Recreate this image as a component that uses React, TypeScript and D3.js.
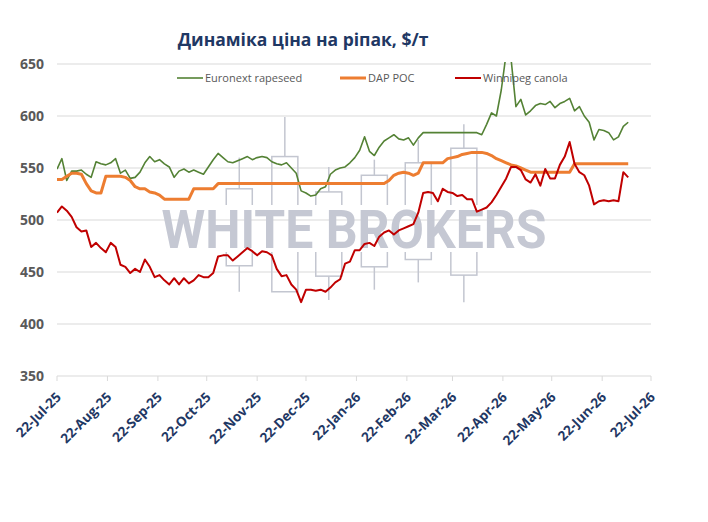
import * as d3 from "d3";
import React from "react";

// Price samples, one every 3 days starting 22 Jul 2025 ($/t)
const START = new Date(2025, 6, 22);
const STEP_DAYS = 3;

const euronext = [
  549, 559, 538, 547, 547, 548, 544, 541, 556, 554,
  553, 555, 559, 545, 548, 540, 541, 546, 555, 561,
  556, 558, 554, 551, 541, 547, 549, 546, 548, 546,
  544, 551, 558, 564, 560, 556, 555, 557, 559, 561,
  558, 560, 561, 560, 556, 554, 553, 555, 550, 545,
  528, 526, 523, 524, 530, 532, 544, 548, 550, 551,
  555, 560, 567, 580, 566, 562, 570, 576, 579, 582,
  578, 577, 579, 572, 579, 584, 584, 584, 584, 584,
  584, 584, 584, 584, 584, 584, 584, 582, 592, 603,
  600, 625, 660, 655, 609, 616, 601, 605, 610, 612,
  611, 614, 608, 612, 614, 617, 605, 609, 600, 594,
  577, 587, 586, 584, 577, 580, 590, 594,
];

const dapPoc = [
  539, 539, 542, 545, 545, 544, 535, 528, 526, 526,
  542, 542, 542, 542, 541, 538, 532, 530, 530, 527,
  526, 524, 520, 520, 520, 520, 520, 520, 530, 530,
  530, 530, 530, 535, 535, 535, 535, 535, 535, 535,
  535, 535, 535, 535, 535, 535, 535, 535, 535, 535,
  535, 535, 535, 535, 535, 535, 535, 535, 535, 535,
  535, 535, 535, 535, 535, 535, 535, 535, 538, 543,
  545, 546, 545, 543, 545, 555, 555, 555, 555, 555,
  559, 560, 561, 563, 564, 565, 565, 565, 564, 562,
  559, 557, 555, 553, 552, 550, 548, 546, 546, 546,
  546, 546, 546, 546, 546, 546, 554, 554, 554, 554,
  554, 554, 554, 554, 554, 554, 554, 554,
];

const winnipeg = [
  507, 513, 509, 503, 493, 489, 490, 474, 478, 473,
  469, 478, 474, 457, 455, 449, 453, 450, 462, 455,
  445, 447, 442, 438, 444, 438, 444, 439, 442, 447,
  445, 445, 449, 465, 466, 466, 461, 465, 469, 473,
  470, 466, 470, 469, 466, 453, 446, 447, 438, 433,
  421, 433, 433, 432, 433, 431, 435, 440, 443, 458,
  460, 471, 471, 477, 478, 475, 484, 488, 490, 486,
  490, 492, 494, 496, 507, 526, 527, 526, 518, 530,
  527, 526, 523, 524, 520, 520, 508, 510, 512, 517,
  524, 532, 540, 551, 551, 548, 539, 536, 544, 533,
  549, 540, 540, 553, 561, 575, 554, 546, 543, 533,
  515, 518, 519, 518, 519, 518, 546, 541,
];

const tickLabels = [
  "22-Jul-25", "22-Aug-25", "22-Sep-25", "22-Oct-25", "22-Nov-25",
  "22-Dec-25", "22-Jan-26", "22-Feb-26", "22-Mar-26", "22-Apr-26",
  "22-May-26", "22-Jun-26", "22-Jul-26",
];
const yTicks = [350, 400, 450, 500, 550, 600, 650];

// Candlestick outlines in the company logo behind the chart
const logoDates = ["11-Nov-25", "9-Dec-25", "5-Jan-26", "2-Feb-26", "1-Mar-26", "29-Mar-26"];
const logoHigh = [560, 599, 551, 558, 577, 592];
const logoTop = [530, 561, 527, 543, 555, 569];
const logoBottom = [456, 431, 446, 455, 462, 447];
const logoLow = [431, 431, 423, 433, 440, 421];

const series = [
  { name: "Euronext rapeseed", values: euronext, color: "#548235", width: 1.6 },
  { name: "DAP POC", values: dapPoc, color: "#ED7D31", width: 3 },
  { name: "Winnipeg canola", values: winnipeg, color: "#C00000", width: 2 },
];

const W = 708;
const H = 522;
const M = { left: 57, right: 57, top: 64, bottom: 146 };
const FONT = "'Open Sans', 'DejaVu Sans', sans-serif";
const NAVY = "#1F3864";
const GRID = "#D9D9D9";

export default function App() {
  const parse = d3.timeParse("%d-%b-%y");
  const tickDates = tickLabels.map((t) => parse(t) as Date);
  const sampleDates = euronext.map((_, i) => d3.timeDay.offset(START, i * STEP_DAYS));

  const x = d3
    .scaleTime()
    .domain([tickDates[0], tickDates[tickDates.length - 1]])
    .range([M.left, W - M.right]);
  const y = d3.scaleLinear().domain([350, 650]).range([H - M.bottom, M.top]);

  const line = (vals: number[]) =>
    d3
      .line<number>()
      .x((_, i) => x(sampleDates[i]))
      .y((d) => y(d))(vals) as string;

  const boxW = x(d3.timeDay.offset(START, 16)) - x(START);
  const logoX = (M.left + W - M.right) / 2;
  const logoY = y(500) + 28;

  const legend = [
    { lx: 177, tx: 205 },
    { lx: 340, tx: 368 },
    { lx: 455, tx: 483 },
  ];

  return (
    <svg
      width={W}
      height={H}
      style={{ position: "absolute", left: 0, top: 0, background: "#fff", display: "block" }}
      fontFamily={FONT}
    >
      <defs>
        <clipPath id="plot-clip">
          <rect x={M.left} y={M.top - 2} width={W - M.left - M.right} height={H - M.top - M.bottom + 2} />
        </clipPath>
        <mask id="logo-gap">
          <rect x={0} y={0} width={W} height={H} fill="#fff" />
          <rect x={logoX - 200} y={logoY - 43} width={400} height={47} fill="#000" />
        </mask>
      </defs>

      <text x={303} y={46} textAnchor="middle" fontSize={17.5} fontWeight="bold" fill={NAVY}>
        Динаміка ціна на ріпак, $/т
      </text>

      {/* gridlines and y labels */}
      {yTicks.map((t) => (
        <g key={t}>
          <line x1={M.left} x2={W - M.right} y1={y(t)} y2={y(t)} stroke={GRID} strokeWidth={1} />
          <text
            x={44}
            y={y(t)}
            dy="0.36em"
            textAnchor="end"
            fontSize={14}
            fontWeight="bold"
            fill="#595959"
          >
            {t}
          </text>
        </g>
      ))}

      {/* x ticks and rotated date labels */}
      {tickDates.map((d, i) => (
        <g key={tickLabels[i]}>
          <line x1={x(d)} x2={x(d)} y1={y(350)} y2={y(350) + 5} stroke={GRID} />
          <text
            transform={`translate(${x(d) + 5},${y(350) + 22}) rotate(-45)`}
            textAnchor="end"
            fontSize={13.5}
            fontWeight="bold"
            fill={NAVY}
          >
            {tickLabels[i]}
          </text>
        </g>
      ))}

      {/* watermark */}
      <g mask="url(#logo-gap)" fill="none" stroke="#C3C6D0" strokeWidth={1.5}>
        {logoDates.map((ds, i) => {
          const cx = x(parse(ds) as Date);
          return (
            <g key={ds}>
              <line x1={cx} x2={cx} y1={y(logoHigh[i])} y2={y(logoTop[i])} />
              <rect x={cx - boxW / 2} y={y(logoTop[i])} width={boxW} height={y(logoBottom[i]) - y(logoTop[i])} />
              <line x1={cx} x2={cx} y1={y(logoBottom[i])} y2={y(logoLow[i])} />
            </g>
          );
        })}
      </g>
      <text
        x={logoX}
        y={logoY}
        textAnchor="middle"
        fontFamily="Roboto, 'DejaVu Sans', sans-serif"
        fontWeight="bold"
        fontSize={54}
        textLength={385}
        lengthAdjust="spacingAndGlyphs"
        fill="#C5C8D3"
      >
        WHITE BROKERS
      </text>

      {/* series */}
      <g clipPath="url(#plot-clip)" fill="none" strokeLinejoin="round">
        {series.map((s) => (
          <path key={s.name} d={line(s.values)} stroke={s.color} strokeWidth={s.width} />
        ))}
      </g>

      {/* legend */}
      {series.map((s, i) => (
        <g key={s.name}>
          <line
            x1={legend[i].lx}
            x2={legend[i].lx + 26}
            y1={78}
            y2={78}
            stroke={s.color}
            strokeWidth={s.width}
          />
          <text x={legend[i].tx} y={78} dy="0.35em" fontSize={11} fill="#595959">
            {s.name}
          </text>
        </g>
      ))}
    </svg>
  );
}
